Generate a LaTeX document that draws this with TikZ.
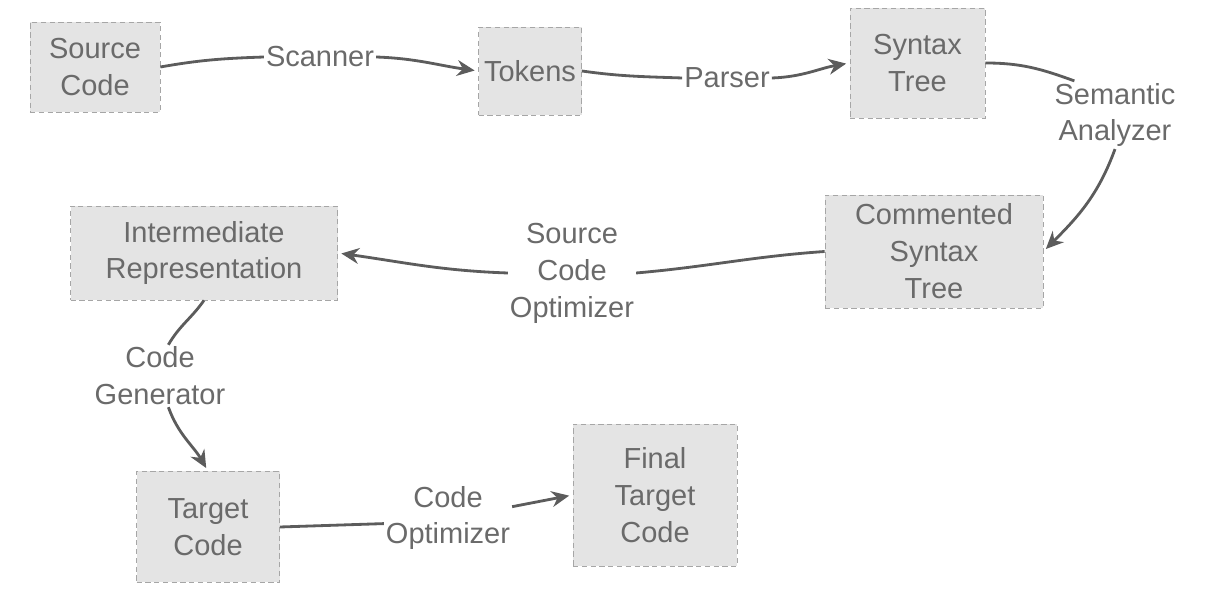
\documentclass[tikz,border=0pt]{standalone}
\usepackage{fontspec}
\setmainfont{Liberation Sans}
\usetikzlibrary{arrows.meta}
\definecolor{boxgray}{HTML}{E4E4E4}
\definecolor{txtgray}{HTML}{6A6A6A}
\definecolor{arrgray}{HTML}{5C5C5C}

\begin{document}
\begin{tikzpicture}[
   box/.style={draw=gray!70,densely dashed,thin,fill=boxgray,text=txtgray,align=center,inner sep=0pt},
   lbl/.style={text=txtgray,align=center,inner sep=1pt},
   link/.style={line width=1.6pt,draw=arrgray},
   flow/.style={link,shorten >=2pt,-{Stealth[length=10pt,width=9pt]}},
   font=\fontsize{16.5}{21}\selectfont]
   \useasboundingbox (0,0) rectangle (24.5,-11.96);
   % boxes
   \node[box,minimum width=2.6cm,minimum height=1.8cm] (src) at (1.9,-1.34) {Source\\Code};
   \node[box,minimum width=2.06cm,minimum height=1.76cm] (tok) at (10.6,-1.42) {Tokens};
   \node[box,minimum width=2.7cm,minimum height=2.2cm] (syn) at (18.35,-1.26) {Syntax\\Tree};
   \node[box,minimum width=4.36cm,minimum height=2.26cm] (com) at (18.68,-5.03) {Commented\\Syntax\\Tree};
   \node[box,minimum width=5.34cm,minimum height=1.88cm] (int) at (4.08,-5.06) {Intermediate\\Representation};
   \node[box,minimum width=2.86cm,minimum height=2.22cm] (tgt) at (4.16,-10.54) {Target\\Code};
   \node[box,minimum width=3.28cm,minimum height=2.84cm] (fin) at (13.1,-9.9) {Final\\Target\\Code};
   % labels
   \node[lbl] (scan) at (6.4,-1.14) {Scanner};
   \node[lbl] (par) at (14.54,-1.56) {Parser};
   \node[lbl] (sem) at (22.3,-2.3) {Semantic\\Analyzer};
   \node[lbl] (sco) at (11.44,-5.46) {Source\\Code\\Optimizer};
   \node[lbl] (cg) at (3.2,-7.52) {Code\\Generator};
   \node[lbl] (co) at (8.96,-10.36) {Code\\Optimizer};
   % connectors
   \draw[link] (src.east) to[out=10,in=182] (scan.west);
   \draw[flow] (scan.east) to[out=-2,in=172] (tok.west);
   \draw[link] (tok.east) to[out=-8,in=178] (par.west);
   \draw[flow] (par.east) to[out=2,in=190] (syn.west);
   \draw[link] (syn.east) to[out=0,in=160] (sem.140);
   \draw[flow] (sem.south) to[out=-110,in=45] (com.east);
   \draw[link] (com.west) to[out=184,in=5] (sco.east);
   \draw[flow] (sco.west) to[out=178,in=-8] (int.east);
   \draw[link] (int.south) to[out=-125,in=60] (cg.75);
   \draw[flow] (cg.-75) to[out=-70,in=120] (tgt.north);
   \draw[link] (tgt.east) -- (co.185);
   \draw[flow] (co.10) -- (fin.west);
\end{tikzpicture}
\end{document}
